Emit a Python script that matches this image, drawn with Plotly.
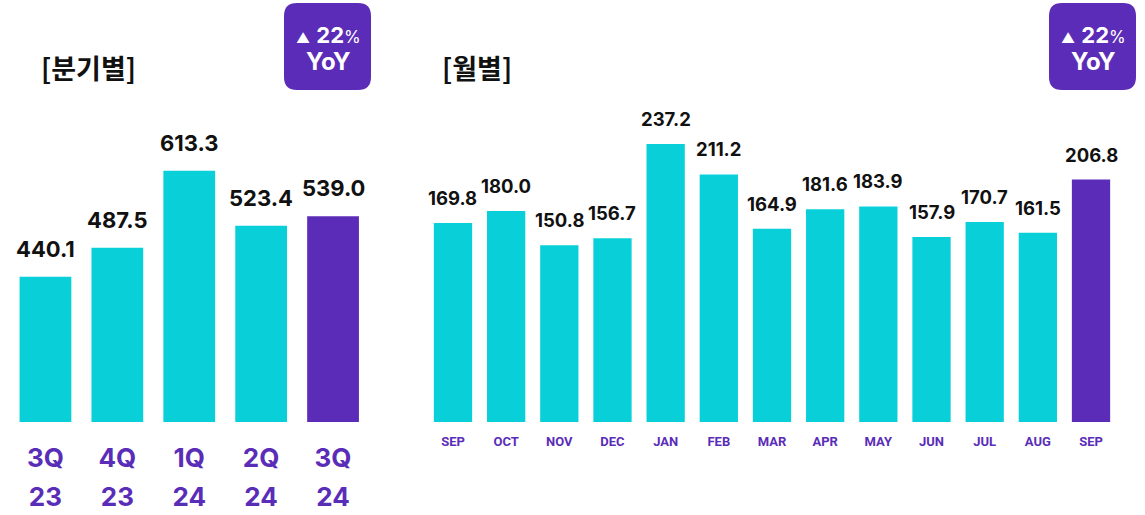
import plotly.graph_objects as go

# ---- data ----
quarters = ["3Q", "4Q", "1Q", "2Q", "3Q"]
quarter_years = ["23", "23", "24", "24", "24"]
quarter_values = [440.1, 487.5, 613.3, 523.4, 539.0]

months = ["SEP", "OCT", "NOV", "DEC", "JAN", "FEB", "MAR", "APR", "MAY", "JUN", "JUL", "AUG", "SEP"]
month_values = [169.8, 180.0, 150.8, 156.7, 237.2, 211.2, 164.9, 181.6, 183.9, 157.9, 170.7, 161.5, 206.8]

title_q = "[분기별]"
title_m = "[월별]"
yoy_pct = "22"

# ---- style ----
W, H = 1145, 515
CYAN = "#09d0d8"
PURPLE = "#5b2cb7"
TICK_PURPLE = "#5a2db8"
FONT = "Inter, Noto Sans CJK KR, sans-serif"
KFONT = "Noto Sans CJK KR, sans-serif"


def px_x(x):
    return x / W


def px_y(y):
    return 1 - y / H


qx = list(range(len(quarters)))
mx = list(range(len(months)))
q_colors = [CYAN] * (len(quarters) - 1) + [PURPLE]
m_colors = [CYAN] * (len(months) - 1) + [PURPLE]

fig = go.Figure()
fig.add_trace(go.Bar(x=qx, y=quarter_values, marker=dict(color=q_colors, line_width=0),
                     xaxis="x", yaxis="y", hoverinfo="skip"))
# invisible helper trace so the second (year) label axis is drawn
fig.add_trace(go.Scatter(x=qx, y=quarter_values, mode="markers", marker=dict(opacity=0),
                         xaxis="x3", yaxis="y", hoverinfo="skip"))
fig.add_trace(go.Bar(x=mx, y=month_values, marker=dict(color=m_colors, line_width=0),
                     xaxis="x2", yaxis="y2", hoverinfo="skip"))

annotations = []
for i, v in enumerate(quarter_values):
    annotations.append(dict(x=qx[i], y=v, xref="x", yref="y", text=f"<b>{v:.1f}</b>",
                            showarrow=False, yanchor="middle", yshift=28,
                            font=dict(family=FONT, size=22, color="#111111")))
for i, v in enumerate(month_values):
    annotations.append(dict(x=mx[i], y=v, xref="x2", yref="y2", text=f"<b>{v:.1f}</b>",
                            showarrow=False, yanchor="middle", yshift=25,
                            font=dict(family=FONT, size=18.5, color="#111111")))

# titles
annotations.append(dict(x=px_x(39), y=px_y(67), xref="paper", yref="paper", text=f"<b>{title_q}</b>",
                        showarrow=False, xanchor="left", yanchor="middle",
                        font=dict(family=KFONT, size=27, color="#111111")))
annotations.append(dict(x=px_x(440), y=px_y(67), xref="paper", yref="paper", text=f"<b>{title_m}</b>",
                        showarrow=False, xanchor="left", yanchor="middle",
                        font=dict(family=KFONT, size=27, color="#111111")))


def rounded_rect(x0, y0, x1, y1, r):
    X0, X1 = px_x(x0), px_x(x1)
    Y0, Y1 = px_y(y0), px_y(y1)  # Y0 top (higher), Y1 bottom
    rx = r / W
    ry = r / H
    return (f"M {X0+rx},{Y0} L {X1-rx},{Y0} Q {X1},{Y0} {X1},{Y0-ry} "
            f"L {X1},{Y1+ry} Q {X1},{Y1} {X1-rx},{Y1} "
            f"L {X0+rx},{Y1} Q {X0},{Y1} {X0},{Y1+ry} "
            f"L {X0},{Y0-ry} Q {X0},{Y0} {X0+rx},{Y0} Z")


shapes = []
for (bx0, bx1) in [(284, 371), (1049, 1136)]:
    shapes.append(dict(type="path", xref="paper", yref="paper",
                       path=rounded_rect(bx0, 3, bx1, 90, 13),
                       fillcolor=PURPLE, line=dict(width=0), layer="above"))
    cx = (bx0 + bx1) / 2
    annotations.append(dict(x=px_x(cx + 1), y=px_y(35), xref="paper", yref="paper",
                            text=f"<span style='font-size:14px'>▲</span> <b>{yoy_pct}</b><span style='font-size:17px'>%</span>",
                            showarrow=False, xanchor="center", yanchor="middle",
                            font=dict(family=FONT, size=22, color="white")))
    annotations.append(dict(x=px_x(cx), y=px_y(61), xref="paper", yref="paper", text="<b>YoY</b>",
                            showarrow=False, xanchor="center", yanchor="middle",
                            font=dict(family=FONT, size=24, color="white")))

ydom = [px_y(422), px_y(100)]
fig.update_layout(
    width=W, height=H,
    margin=dict(l=0, r=0, t=0, b=0, autoexpand=False),
    paper_bgcolor="white", plot_bgcolor="white",
    showlegend=False, bargap=0.28,
    xaxis=dict(domain=[px_x(9.5), px_x(369)], range=[-0.5, len(quarters) - 0.5],
               tickvals=qx, ticktext=quarters, showgrid=False, zeroline=False, showline=False,
               ticks="", ticklabelstandoff=18, automargin=False,
               tickfont=dict(family=FONT, size=26, color=TICK_PURPLE, weight="bold"), anchor="y"),
    xaxis3=dict(domain=[px_x(9.5), px_x(369)], range=[-0.5, len(quarters) - 0.5],
                tickvals=qx, ticktext=quarter_years, showgrid=False, zeroline=False, showline=False,
                ticks="", ticklabelstandoff=57, overlaying="x", anchor="y", side="bottom",
                automargin=False,
                tickfont=dict(family=FONT, size=26, color=TICK_PURPLE, weight="bold")),
    yaxis=dict(domain=ydom, range=[203, 729], visible=False, anchor="x"),
    xaxis2=dict(domain=[px_x(426.4), px_x(1117.6)], range=[-0.5, len(months) - 0.5],
                tickvals=mx, ticktext=months, showgrid=False, zeroline=False, showline=False,
                ticks="", ticklabelstandoff=10, automargin=False,
                tickfont=dict(family="Roboto, sans-serif", size=13, color=TICK_PURPLE, weight="bold"),
                anchor="y2"),
    yaxis2=dict(domain=ydom, range=[0, 274.7], visible=False, anchor="x2"),
    annotations=annotations,
    shapes=shapes,
)

fig.write_html("out.html", config={"displayModeBar": False},
               post_script="document.body.style.margin='0';document.body.style.overflow='hidden';")
